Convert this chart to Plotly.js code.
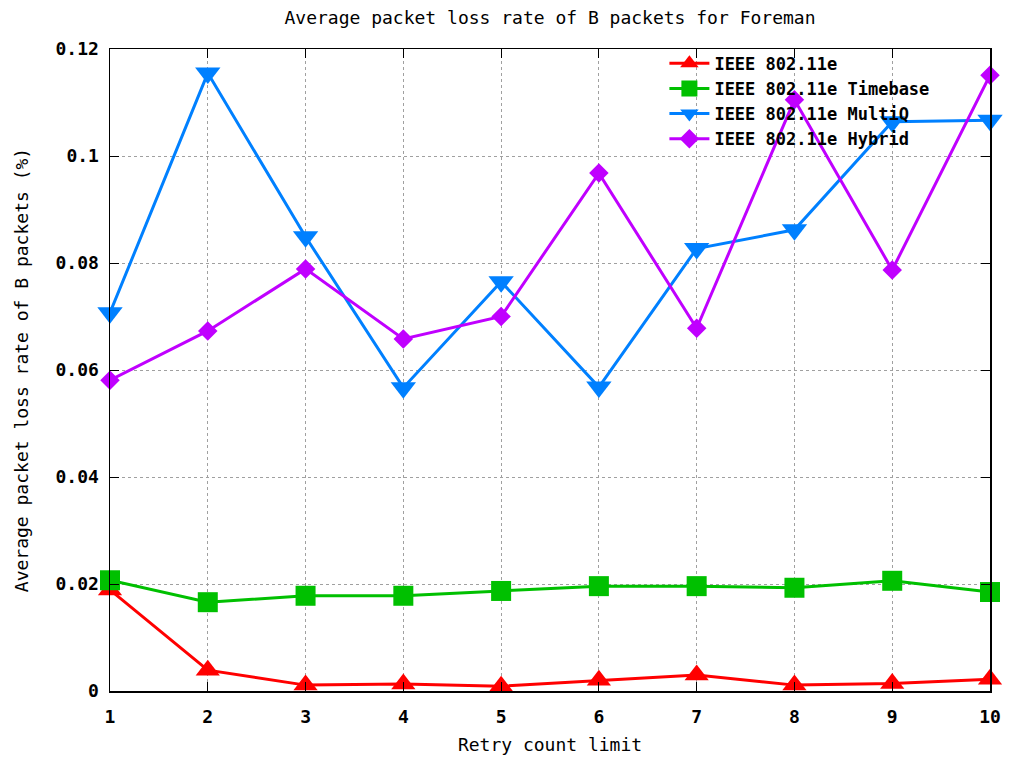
<!DOCTYPE html>
<html>
<head>
<meta charset="utf-8">
<script src="https://cdn.plot.ly/plotly-3.0.1.min.js"></script>
<style>html,body{margin:0;padding:0;background:#fff;}#chart{width:1011px;height:757px;}</style>
</head>
<body>
<div id="chart"></div>
<script>
const retryLimits = [1, 2, 3, 4, 5, 6, 7, 8, 9, 10];
const ieee80211e = [0.0189, 0.0039, 0.0011, 0.0013, 0.0009, 0.0020, 0.0030, 0.0011, 0.0014, 0.0022];
const timebase   = [0.0207, 0.0166, 0.0178, 0.0178, 0.0187, 0.0196, 0.0196, 0.0193, 0.0206, 0.0185];
const multiQ     = [0.0707, 0.1155, 0.0849, 0.0567, 0.0765, 0.0568, 0.0827, 0.0862, 0.1064, 0.1067];
const hybrid     = [0.0581, 0.0673, 0.0789, 0.0658, 0.0700, 0.0968, 0.0678, 0.1105, 0.0787, 0.1151];
const seriesNames = ["IEEE 802.11e", "IEEE 802.11e Timebase", "IEEE 802.11e MultiQ", "IEEE 802.11e Hybrid"];
const xTickVals = [1, 2, 3, 4, 5, 6, 7, 8, 9, 10];
const yTickVals = [0, 0.02, 0.04, 0.06, 0.08, 0.1, 0.12];
const yTickText = ["0", "0.02", "0.04", "0.06", "0.08", "0.1", "0.12"];

const FONT = "'DejaVu Sans Mono', 'Liberation Mono', monospace";
const FS = 18;

function mk(y, name, color, symbol, size) {
  return {
    x: retryLimits, y: y, name: name, type: 'scatter', mode: 'lines+markers',
    line: {color: color, width: 3},
    marker: {color: color, symbol: symbol, size: size},
    cliponaxis: false
  };
}

const data = [
  mk(ieee80211e, seriesNames[0], '#ff0000', 'triangle-up', 21),
  mk(timebase, seriesNames[1], '#00c000', 'square', 20),
  mk(multiQ, seriesNames[2], '#0080ff', 'triangle-down', 22),
  mk(hybrid, seriesNames[3], '#c000ff', 'diamond', 15)
];

const axisCommon = {
  showline: true, linecolor: '#000', linewidth: 1.5, mirror: 'ticks',
  ticks: 'inside', ticklen: 9, tickcolor: '#000', tickwidth: 1,
  showgrid: true, gridcolor: '#a0a0a0', griddash: 'dot', gridwidth: 1,
  zeroline: false,
  tickfont: {family: FONT, size: FS, color: '#000', weight: 'bold'}
};

const layout = {
  width: 1011, height: 757,
  paper_bgcolor: '#fff', plot_bgcolor: '#fff',
  margin: {l: 110, r: 21, t: 49, b: 66},
  title: {text: 'Average packet loss rate of B packets for Foreman', font: {family: FONT, size: FS, color: '#000'}, xref: 'paper', x: 0.5, xanchor: 'center', y: 0.977, yanchor: 'middle'},
  xaxis: Object.assign({}, axisCommon, {
    range: [1, 10], tickvals: xTickVals, ticktext: xTickVals.map(String),
    ticklabelstandoff: 9,
    title: {text: 'Retry count limit', font: {family: FONT, size: FS, color: '#000'}, standoff: 12}
  }),
  yaxis: Object.assign({}, axisCommon, {
    range: [0, 0.12], tickvals: yTickVals, ticktext: yTickText,
    ticklabelstandoff: 6,
    title: {text: 'Average packet loss rate of B packets (%)', font: {family: FONT, size: FS, color: '#000'}, standoff: 22}
  }),
  showlegend: true,
  legend: {
    x: 0.63, xanchor: 'left', y: 1.005, yanchor: 'top',
    bgcolor: 'rgba(0,0,0,0)', borderwidth: 0,
    font: {family: FONT, size: 17, color: '#000', weight: 'bold'},
    itemwidth: 40, tracegroupgap: 0
  }
};

Plotly.newPlot('chart', data, layout, {displayModeBar: false, staticPlot: true});
</script>
</body>
</html>
